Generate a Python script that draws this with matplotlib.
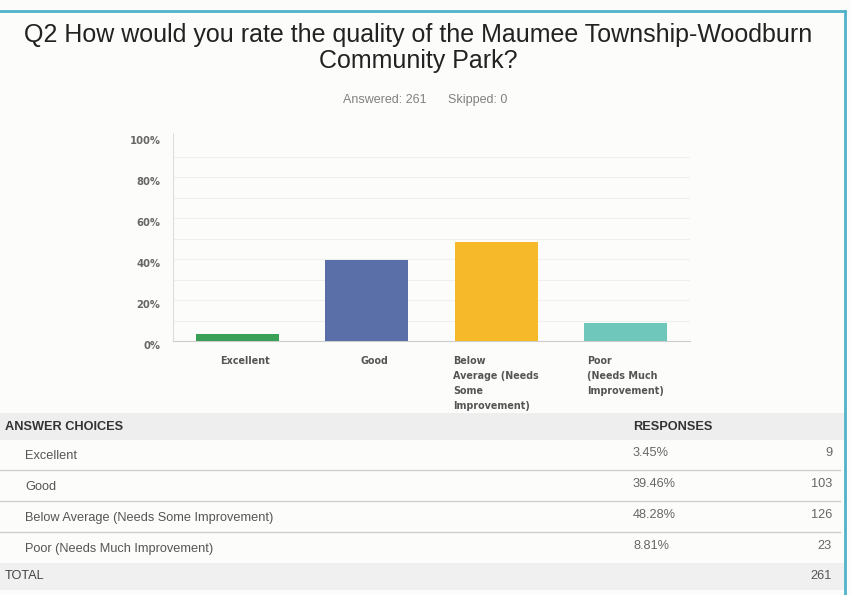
import matplotlib
matplotlib.use("Agg")
import matplotlib.pyplot as plt
import matplotlib.transforms as mtrans
from matplotlib.patches import Rectangle
from matplotlib.lines import Line2D

# ---- data ----
title_lines = ["Q2 How would you rate the quality of the Maumee Township-Woodburn", "Community Park?"]
answered = 261
skipped = 0
categories = ["Excellent", "Good", "Below\nAverage (Needs\nSome\nImprovement)", "Poor\n(Needs Much\nImprovement)"]
pct_values = [3.45, 39.46, 48.28, 8.81]
counts = [9, 103, 126, 23]
table_labels = ["Excellent", "Good", "Below Average (Needs Some Improvement)", "Poor (Needs Much Improvement)"]
total = 261
yticks = [0, 20, 40, 60, 80, 100]
bar_colors = ["#3a9f57", "#5a6ea8", "#f6b929", "#6fc6ba"]

W, H = 851, 595
fig = plt.figure(figsize=(W / 100, H / 100), dpi=100)
fig.patch.set_facecolor("#fcfcfb")

def fx(x):
    return x / W

def fy(y):
    return 1 - y / H

# border
fig.add_artist(Line2D([fx(0), fx(845)], [fy(11), fy(11)], color="#4fb3c9", lw=2))
fig.add_artist(Line2D([fx(845), fx(845)], [fy(11), fy(595)], color="#4fb3c9", lw=2))

# title
for ty, line in zip([35, 61], title_lines):
    fig.text(fx(418), fy(ty), line, ha="center", va="center", fontsize=18,
             family="Liberation Sans", color="#222222")
fig.text(fx(427), fy(100), f"Answered: {answered}", ha="right", va="center",
         fontsize=9, family="Liberation Sans", color="#808080")
fig.text(fx(448), fy(100), f"Skipped: {skipped}", ha="left", va="center",
         fontsize=9, family="Liberation Sans", color="#808080")

# chart axes
ax_l, ax_r, ax_b, ax_t = 173, 690, 341, 133
ax = fig.add_axes([fx(ax_l), fy(ax_b), fx(ax_r) - fx(ax_l), fy(ax_t) - fy(ax_b)])
ax.set_facecolor("none")
x = list(range(len(categories)))
ax.bar(x, pct_values, width=0.643, color=bar_colors, zorder=3)
ax.set_xlim(-0.5, 3.5)
ax.set_ylim(0, 101.5)
for g in range(10, 100, 10):
    ax.axhline(g, color="#efefef", lw=0.8, zorder=1)
for s in ["top", "right"]:
    ax.spines[s].set_visible(False)
ax.spines["left"].set_color("#dddddd")
ax.spines["bottom"].set_color("#cccccc")
ax.set_yticks(yticks)
ax.set_yticklabels([f"{v}%" for v in yticks], fontsize=7.2, fontweight="bold",
                   color="#666666", family="DejaVu Sans")
ax.tick_params(axis="y", length=0, pad=9)
ax.set_xticks([])
for xi, cat in zip(x, categories):
    ax.text(xi + (0.06 if "\n" not in cat else 0), -7.5, cat, ha="center", va="top",
            multialignment="left", fontsize=6.9, fontweight="bold", color="#555555",
            family="DejaVu Sans", linespacing=1.62)
offset = mtrans.ScaledTranslation(0, 4 / 100, fig.dpi_scale_trans)
for lab in ax.get_yticklabels():
    lab.set_transform(lab.get_transform() - offset)

# table
tfont = "Liberation Sans"
fs = 9.2
fig.add_artist(Rectangle((fx(0), fy(440)), fx(844), fy(413) - fy(440), color="#eeeeee", lw=0))
fig.text(fx(5), fy(427), "ANSWER CHOICES", ha="left", va="center", fontsize=fs,
         fontweight="bold", family=tfont, color="#333333")
fig.text(fx(633), fy(427), "RESPONSES", ha="left", va="center", fontsize=fs,
         fontweight="bold", family=tfont, color="#333333")
row_y = [456, 487, 518, 549]
sep_y = [470, 501, 532]
for lab, p, c, yy in zip(table_labels, pct_values, counts, row_y):
    fig.text(fx(25), fy(yy), lab, ha="left", va="center", fontsize=fs, family=tfont, color="#555555")
    fig.text(fx(633), fy(yy - 3), f"{p:.2f}%", ha="left", va="center", fontsize=fs, family=tfont, color="#666666")
    fig.text(fx(832), fy(yy - 3), f"{c}", ha="right", va="center", fontsize=fs, family=tfont, color="#666666")
for yy in sep_y:
    fig.add_artist(Line2D([fx(0), fx(840)], [fy(yy), fy(yy)], color="#cfcfcf", lw=1))
fig.add_artist(Rectangle((fx(0), fy(590)), fx(844), fy(563) - fy(590), color="#f0f0f0", lw=0))
fig.text(fx(5), fy(576), "TOTAL", ha="left", va="center", fontsize=fs, family=tfont, color="#444444")
fig.text(fx(832), fy(576), f"{total}", ha="right", va="center", fontsize=fs, family=tfont, color="#555555")

fig.savefig("out.png", dpi=100, facecolor=fig.get_facecolor())
